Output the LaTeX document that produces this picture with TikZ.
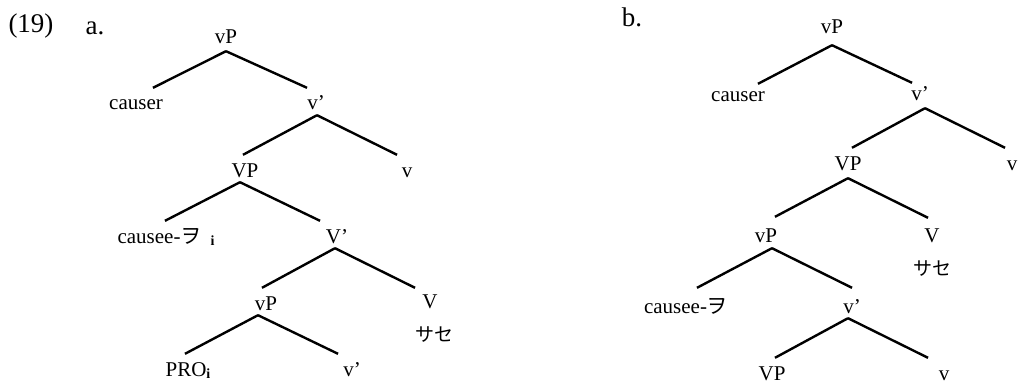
\documentclass[tikz,border=0pt]{standalone}
\usepackage{fontspec}
\setmainfont{Liberation Serif}
\newfontfamily\cjk{Noto Sans CJK JP}
\newcommand{\subi}{\raisebox{-2.5pt}{\fontsize{14}{14}\selectfont\bfseries i}}
\begin{document}
\begin{tikzpicture}[x=1pt,y=-1pt,
  lab/.style={font=\fontsize{21}{23}\selectfont, inner sep=0pt, anchor=base, text height=22pt, text depth=5pt},
  head/.style={font=\fontsize{27}{30}\selectfont, inner sep=0pt, anchor=base},
  gloss/.style={font=\cjk\fontsize{19}{20}\selectfont, inner sep=0pt},
  br/.style={line width=2.4pt}]
\useasboundingbox (0,0) rectangle (1019,385);
% ---------- (19) a.
\node[head] (ex) at (31,33) {(19)};
\node[head] (la) at (95,35) {a.};
\node[lab] (a1) at (226,44) {vP};
\node[lab] (a2) at (136,110) {causer};
\node[lab] (a3) at (316,110) {v'};
\node[lab] (a4) at (245,177) {VP};
\node[lab] (a5) at (407,177) {v};
\node[lab] (a6) at (166,243) {causee-{\cjk ヲ}\hspace{9pt}\subi};
\node[lab] (a7) at (337,243) {V'};
\node[lab] (a8) at (266,310) {vP};
\node[lab] (a9) at (430,308) {V};
\node[gloss] (a10) at (434,335) {サセ};
\node[lab] (a11) at (188,376) {PRO\subi};
\node[lab] (a12) at (352,376) {v'};
\draw[br] ([yshift=-2pt]a1.south) -- ([xshift=17pt]a2.north);
\draw[br] ([yshift=-2pt]a1.south) -- ([xshift=-9pt]a3.north);
\draw[br] ([xshift=1pt]a3.south) -- ([xshift=-2pt]a4.north);
\draw[br] ([xshift=1pt]a3.south) -- ([xshift=-10pt]a5.north);
\draw[br] ([xshift=-5pt]a4.south) -- ([xshift=-1pt]a6.north);
\draw[br] ([xshift=-5pt]a4.south) -- ([xshift=-17pt]a7.north);
\draw[br] ([xshift=-2pt]a7.south) -- ([xshift=-4pt]a8.north);
\draw[br] ([xshift=-2pt]a7.south) -- ([xshift=-15pt,yshift=-2pt]a9.north);
\draw[br] ([xshift=-8pt]a8.south) -- ([xshift=-3pt]a11.north);
\draw[br] ([xshift=-8pt]a8.south) -- ([xshift=-14pt]a12.north);
% ---------- b.
\node[head] (lb) at (632,27) {b.};
\node[lab] (b1) at (832,34) {vP};
\node[lab] (b2) at (738,102) {causer};
\node[lab] (b3) at (920,101) {v'};
\node[lab] (b4) at (848,170) {VP};
\node[lab] (b5) at (1012,170) {v};
\node[lab] (b6) at (766,242) {vP};
\node[lab] (b7) at (932,242) {V};
\node[gloss] (b8) at (932,269) {サセ};
\node[lab] (b9) at (686,313) {causee-{\cjk ヲ}};
\node[lab] (b10) at (852,313) {v'};
\node[lab] (b11) at (772,380) {VP};
\node[lab] (b12) at (944,380) {v};
\draw[br] ([yshift=-6pt]b1.south) -- ([xshift=20pt,yshift=-4pt]b2.north);
\draw[br] ([yshift=-6pt]b1.south) -- ([xshift=-8pt,yshift=-4pt]b3.north);
\draw[br] ([xshift=5pt,yshift=-2pt]b3.south) -- ([xshift=4pt]b4.north);
\draw[br] ([xshift=5pt,yshift=-2pt]b3.south) -- ([xshift=-7pt]b5.north);
\draw[br] ([yshift=-3pt]b4.south) -- ([xshift=9pt,yshift=3pt]b6.north);
\draw[br] ([yshift=-3pt]b4.south) -- ([xshift=-4pt,yshift=2pt]b7.north);
\draw[br] ([xshift=6pt,yshift=-1pt]b6.south) -- ([xshift=11pt,yshift=3pt]b9.north);
\draw[br] ([xshift=6pt,yshift=-1pt]b6.south) -- ([yshift=3pt]b10.north);
\draw[br] ([xshift=-4pt]b10.south) -- ([xshift=3pt]b11.north);
\draw[br] ([xshift=-4pt]b10.south) -- ([xshift=-16pt]b12.north);
\end{tikzpicture}
\end{document}
